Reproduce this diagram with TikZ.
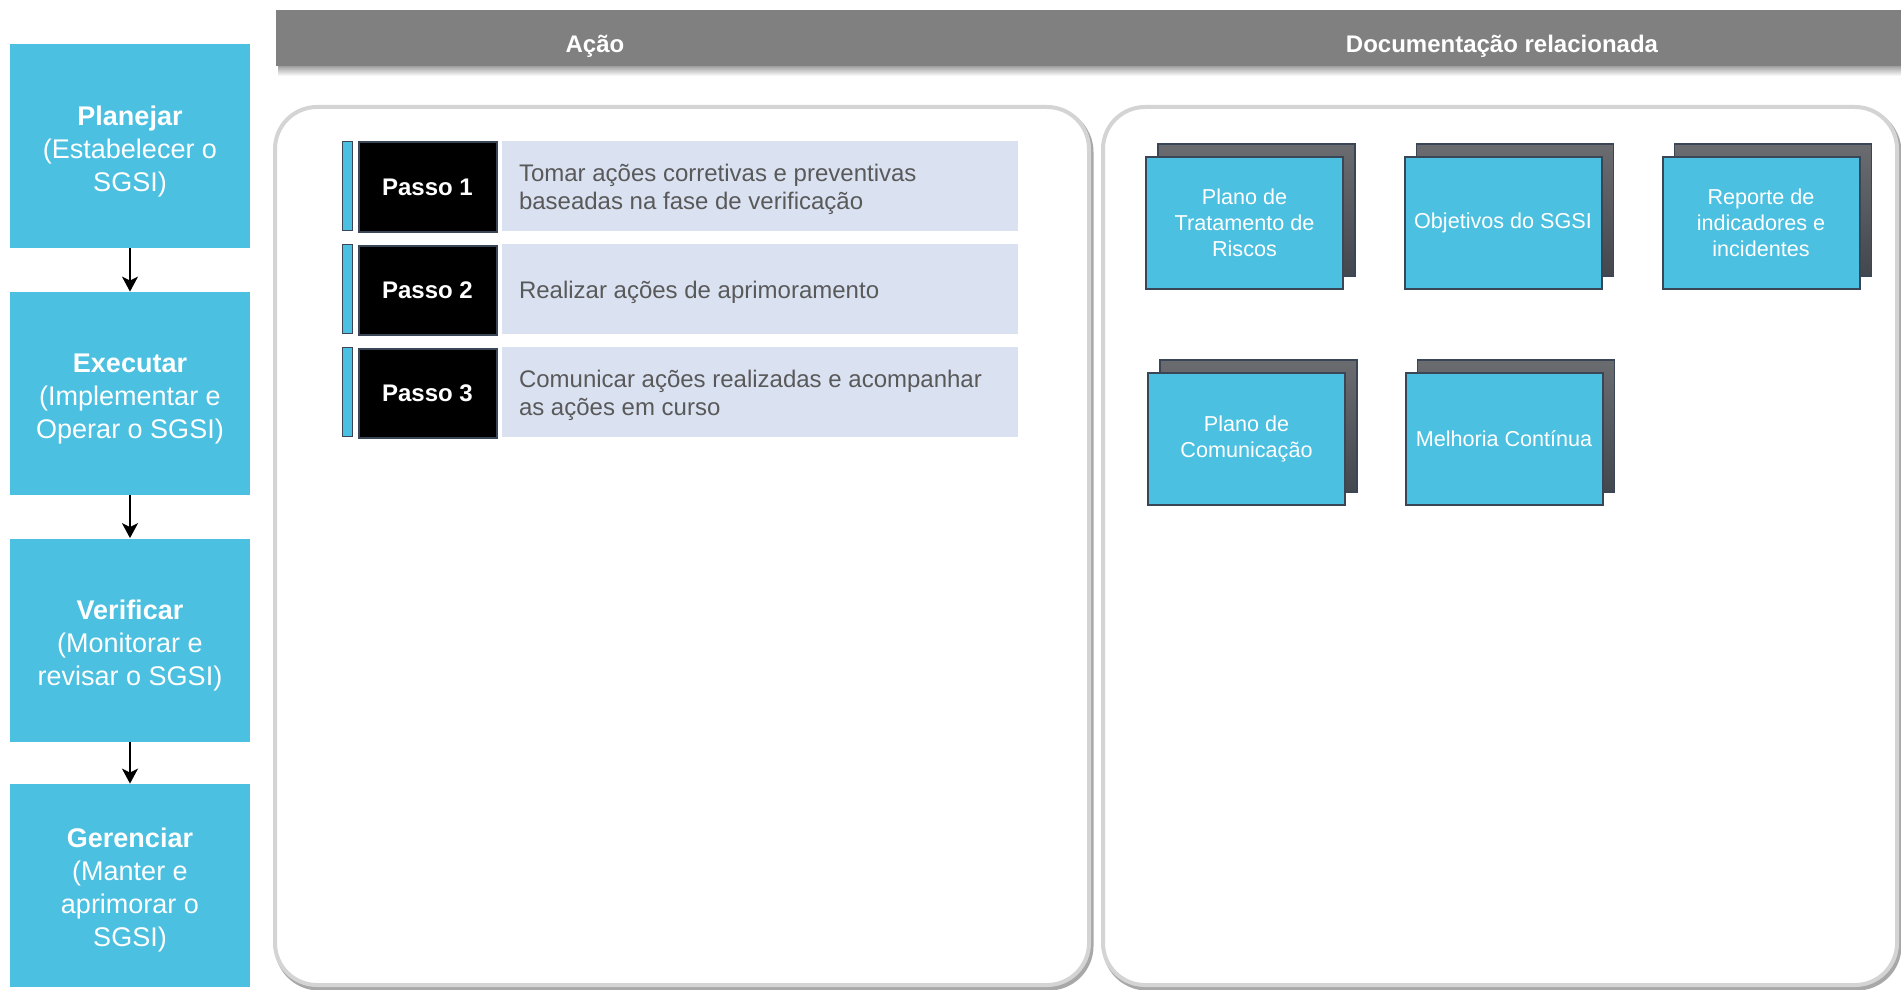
\documentclass[tikz,border=0pt]{standalone}
\usepackage{fontspec}
\setmainfont{Liberation Sans}
\usetikzlibrary{arrows.meta}
\definecolor{cyanbox}{HTML}{4BC0E0}
\definecolor{navyline}{HTML}{3A4656}
\definecolor{steplight}{HTML}{DAE2F2}
\definecolor{hdrgray}{HTML}{808080}
\definecolor{txtgray}{HTML}{595959}
\definecolor{backtop}{HTML}{6A6C70}
\definecolor{backbot}{HTML}{43474E}
\definecolor{panelline}{HTML}{D4D4D4}
\definecolor{panelshadow}{HTML}{A8A8A8}
\tikzset{
  phase/.style={rectangle, fill=cyanbox, minimum width=120pt, minimum height=101.5pt, inner sep=0pt},
  phaselabel/.style={text=white, align=center, inner sep=0pt, font=\fontsize{13.5}{16.5}\selectfont},
  flowarrow/.style={-{Stealth[length=7.5pt,width=8pt,inset=2pt]}, line width=1.1pt, black},
  hdrtext/.style={text=white, font=\fontsize{12}{14}\selectfont\bfseries},
  panelshade/.style={draw=panelshadow, line width=2.5pt, rounded corners=21pt},
  panelbox/.style={draw=panelline, fill=white, line width=2pt, rounded corners=21pt},
  stepbar/.style={rectangle, fill=cyanbox, draw=navyline, line width=0.8pt, minimum width=5pt, minimum height=44.5pt, inner sep=0pt},
  stepnum/.style={rectangle, fill=black, draw=navyline, line width=1pt, minimum width=69pt, minimum height=44.5pt, inner sep=0pt,
    text=white, font=\fontsize{12}{14}\selectfont\bfseries},
  steptext/.style={rectangle, fill=steplight, minimum width=258pt, minimum height=45pt, inner sep=0pt},
  stepcaption/.style={anchor=west, inner sep=0pt, align=left, text=txtgray, font=\fontsize{12}{14}\selectfont},
  docback/.style={rectangle, top color=backtop, bottom color=backbot, draw=navyline, line width=0.8pt,
    minimum width=98.5pt, minimum height=66pt, inner sep=0pt},
  docfront/.style={rectangle, fill=cyanbox, draw=navyline, line width=1pt, minimum width=98.5pt, minimum height=66pt,
    inner sep=0pt, align=center, text=white, font=\fontsize{10.8}{13}\selectfont}
}
\begin{document}
\begin{tikzpicture}[x=0.5pt,y=-0.5pt]
\useasboundingbox (0,0) rectangle (1901,990);
\fill[white] (0,0) rectangle (1901,990);

% left phase column
\node[phase] (plan) at (130,146) {};
\node[phase] (exec) at (130,393.5) {};
\node[phase] (verif) at (130,640) {};
\node[phase] (ger) at (130,885.5) {};
\node[phaselabel] (planT) at ([yshift=-3pt]plan.center) {{\bfseries Planejar}\\(Estabelecer o\\SGSI)};
\node[phaselabel] (execT) at ([yshift=-3pt]exec.center) {{\bfseries Executar}\\(Implementar e\\Operar o SGSI)};
\node[phaselabel] (verifT) at ([yshift=-3pt]verif.center) {{\bfseries Verificar}\\(Monitorar e\\revisar o SGSI)};
\node[phaselabel] (gerT) at ([yshift=-2.5pt]ger.center) {{\bfseries Gerenciar}\\(Manter e\\aprimorar o\\SGSI)};
\draw[flowarrow] (plan.south) -- (exec.north);
\draw[flowarrow] (exec.south) -- (verif.north);
\draw[flowarrow] (verif.south) -- (ger.north);

% header bar
\shade[top color=black!45, bottom color=white] (278,64) rectangle (1901,76);
\fill[hdrgray] (276,10) rectangle (1901,66);
\node[hdrtext] (hA) at (595,46) {Ação};
\node[hdrtext] (hD) at (1502,46) {Documentação relacionada};

% panels
\draw[panelshade] (277,110) rectangle (1091,988);
\draw[panelbox] (275,107) rectangle (1089,985);
\draw[panelshade] (1105,110) rectangle (1899,988);
\draw[panelbox] (1103,107) rectangle (1897,985);

% steps
\node[stepbar] (bar1) at (347.5,186) {};
\node[stepnum] (n1) at (427.5,187) {Passo 1};
\node[steptext] (t1) at (760,186) {};
\node[stepcaption] (c1) at ([xshift=8.5pt,yshift=-1.8pt]t1.west) {Tomar ações corretivas e preventivas\\baseadas na fase de verificação};
\node[stepbar] (bar2) at (347.5,289) {};
\node[stepnum] (n2) at (427.5,290) {Passo 2};
\node[steptext] (t2) at (760,289) {};
\node[stepcaption] (c2) at ([xshift=8.5pt,yshift=-1.8pt]t2.west) {Realizar ações de aprimoramento};
\node[stepbar] (bar3) at (347.5,392) {};
\node[stepnum] (n3) at (427.5,393) {Passo 3};
\node[steptext] (t3) at (760,392) {};
\node[stepcaption] (c3) at ([xshift=8.5pt,yshift=-1.8pt]t3.west) {Comunicar ações realizadas e acompanhar\\as ações em curso};

% documentation boxes
\node[docback] (d1b) at (1256.5,210) {};
\node[docfront] (d1) at (1244.5,223) {Plano de\\Tratamento de\\Riscos};
\node[docback] (d2b) at (1515,210) {};
\node[docfront] (d2) at (1503,223) {Objetivos do SGSI};
\node[docback] (d3b) at (1773,210) {};
\node[docfront] (d3) at (1761,223) {Reporte de\\indicadores e\\incidentes};
\node[docback] (d4b) at (1258.5,426) {};
\node[docfront] (d4) at (1246.5,439) {Plano de\\Comunicação};
\node[docback] (d5b) at (1516,426) {};
\node[docfront] (d5) at (1504,439) {Melhoria Contínua};
\end{tikzpicture}
\end{document}
